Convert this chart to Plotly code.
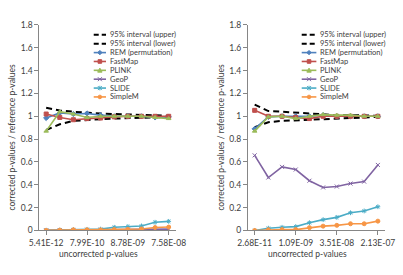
import plotly.graph_objects as go

W, H = 403, 275

# ---------------- data ----------------
idx = list(range(10))
tick_idx = [0, 3, 6, 9]
left_ticktext = ["5.41E-12", "7.99E-10", "8.78E-09", "7.58E-08"]
right_ticktext = ["2.68E-11", "1.09E-09", "3.51E-08", "2.13E-07"]

left_upper = [1.075, 1.05, 1.04, 1.03, 1.025, 1.02, 1.015, 1.01, 1.01, 1.005]
left_lower = [0.88, 0.93, 0.96, 0.97, 0.975, 0.98, 0.985, 0.99, 0.99, 0.995]
left_rem = [0.985, 1.03, 1.02, 1.025, 1.01, 1.0, 1.0, 1.0, 0.99, 0.995]
left_fastmap = [1.02, 0.99, 0.97, 0.98, 0.985, 0.995, 1.0, 1.0, 1.0, 1.0]
left_plink = [0.87, 1.04, 1.02, 0.99, 1.0, 1.0, 1.0, 1.0, 0.99, 0.98]
left_geop = [0.001, 0.002, 0.004, 0.005, 0.006, 0.007, 0.008, 0.01, 0.01, 0.012]
left_slide = [0.002, 0.004, 0.008, 0.01, 0.012, 0.028, 0.034, 0.04, 0.072, 0.08]
left_simplem = [0.001, 0.003, 0.006, 0.006, 0.005, 0.008, 0.01, 0.013, 0.026, 0.03]

right_upper = [1.103, 1.046, 1.04, 1.032, 1.027, 1.02, 1.01, 1.01, 1.005, 1.005]
right_lower = [0.905, 0.948, 0.96, 0.965, 0.975, 0.98, 0.985, 0.99, 0.99, 0.995]
right_rem = [0.89, 0.995, 1.0, 1.0, 1.0, 1.01, 1.0, 1.0, 1.0, 1.0]
right_fastmap = [1.052, 1.0, 1.0, 0.99, 0.98, 1.0, 1.0, 1.0, 1.0, 1.0]
right_plink = [0.87, 0.995, 1.0, 0.98, 1.0, 1.015, 1.01, 1.01, 1.0, 1.0]
right_geop = [0.658, 0.464, 0.557, 0.534, 0.436, 0.377, 0.385, 0.411, 0.428, 0.574]
right_slide = [0.0, 0.02, 0.028, 0.034, 0.068, 0.095, 0.115, 0.155, 0.171, 0.208]
right_simplem = [0.0, 0.006, 0.008, 0.008, 0.025, 0.038, 0.045, 0.059, 0.059, 0.082]

names = ["95% interval (upper)", "95% interval (lower)", "REM (permutation)",
         "FastMap", "PLINK", "GeoP", "SLIDE", "SimpleM"]
left_series = [left_upper, left_lower, left_rem, left_fastmap, left_plink,
               left_geop, left_slide, left_simplem]
right_series = [right_upper, right_lower, right_rem, right_fastmap, right_plink,
                right_geop, right_slide, right_simplem]

# ---------------- styles ----------------
colors = ["#000000", "#000000", "#4F81BD", "#C0504D", "#9BBB59",
          "#8064A2", "#4BACC6", "#F79646"]
symbols = [None, None, "diamond", "square", "triangle-up", "x-thin", "asterisk", "circle"]
dashes = ["6px,4px", "6px,4px", "solid", "solid", "solid", "solid", "solid", "solid"]
widths = [2, 2, 1.6, 1.6, 1.6, 1.6, 1.6, 1.6]

FONT = "Lato"
TXT = "#404040"
AX = "#868686"

fig = go.Figure()
for xa, ya, series in (("x", "y", left_series), ("x2", "y2", right_series)):
    for i, vals in enumerate(series):
        if symbols[i]:
            mk = dict(symbol=symbols[i], size=4, color=colors[i],
                      line=dict(color=colors[i], width=1))
        else:
            mk = None
        fig.add_trace(go.Scatter(
            x=idx, y=vals, xaxis=xa, yaxis=ya, name=names[i], showlegend=False,
            mode="lines+markers" if symbols[i] else "lines",
            line=dict(color=colors[i], width=widths[i], dash=dashes[i]),
            marker=mk,
        ))


def px(x):
    return x / W


def py(y):
    return 1 - y / H


ytickvals = [0, 0.2, 0.4, 0.6, 0.8, 1.0, 1.2, 1.4, 1.6, 1.8]
yticktext = ["0", "0.2", "0.4", "0.6", "0.8", "1", "1.2", "1.4", "1.6", "1.8"]
ydom = [py(234), py(20.7)]

common_x = dict(range=[-0.5, 9.5], showline=True, linecolor=AX, linewidth=1,
                ticks="outside", ticklen=4, tickcolor=AX, showgrid=False,
                zeroline=False, tickvals=tick_idx,
                tickfont=dict(family=FONT, size=8.5, color=TXT))
common_y = dict(range=[0, 1.8], showline=True, linecolor=AX, linewidth=1,
                ticks="outside", ticklen=4, tickcolor=AX, showgrid=False,
                zeroline=False, tickvals=ytickvals, ticktext=yticktext,
                tickfont=dict(family=FONT, size=8.5, color=TXT), domain=ydom)

fig.update_layout(
    width=W, height=H, margin=dict(l=0, r=0, t=0, b=0),
    paper_bgcolor="white", plot_bgcolor="white", showlegend=False,
    font=dict(family=FONT, color=TXT),
    xaxis=dict(domain=[px(30), px(174)], anchor="y", ticktext=left_ticktext, **common_x),
    yaxis=dict(anchor="x", **common_y),
    xaxis2=dict(domain=[px(250.5), px(395.3)], anchor="y2", ticktext=right_ticktext, **common_x),
    yaxis2=dict(anchor="x2", **common_y),
)

annotations = []
shapes = []
# axis titles
for xt in (93, 314):
    annotations.append(dict(text="uncorrected p-values", x=px(xt), y=py(258), xref="paper",
                            yref="paper", showarrow=False, xanchor="center", yanchor="middle",
                            borderpad=0, font=dict(family=FONT, size=8.5, color=TXT)))
for xt in (1.5, 221.7):
    annotations.append(dict(text="corrected p-values / reference p-values", x=px(xt), y=py(137),
                            xref="paper", yref="paper", showarrow=False, textangle=-90,
                            xanchor="center", yanchor="middle", borderpad=0,
                            font=dict(family=FONT, size=8.5, color=TXT)))

# manual compact legends, as in the reference
leg_y = [31, 40.2, 49.4, 58.6, 67.8, 77, 86.2, 95.4]
for (lx0, lx1, tx) in ((87.5, 100.5, 103.5), (307.5, 323.0, 325.5)):
    for i, name in enumerate(names):
        yy = py(leg_y[i])
        shapes.append(dict(type="line", xref="paper", yref="paper", x0=px(lx0), x1=px(lx1),
                           y0=yy, y1=yy,
                           line=dict(color=colors[i], width=widths[i],
                                     dash="5px,3px" if dashes[i] != "solid" else "solid")))
        cxm = px((lx0 + lx1) / 2)
        s = symbols[i]
        if s is not None:
            base = dict(xref="paper", yref="paper", xsizemode="pixel", ysizemode="pixel",
                        xanchor=cxm, yanchor=yy, fillcolor=colors[i],
                        line=dict(color=colors[i], width=1))
            if s == "circle":
                shapes.append(dict(type="circle", x0=-1.8, x1=1.8, y0=-1.8, y1=1.8, **base))
            elif s == "square":
                shapes.append(dict(type="rect", x0=-1.8, x1=1.8, y0=-1.8, y1=1.8, **base))
            elif s == "diamond":
                shapes.append(dict(type="path", path="M 0 2.2 L 2.2 0 L 0 -2.2 L -2.2 0 Z", **base))
            elif s == "triangle-up":
                shapes.append(dict(type="path", path="M 0 2.2 L 2.2 -1.8 L -2.2 -1.8 Z", **base))
            elif s == "x-thin":
                shapes.append(dict(type="path", path="M -2 -2 L 2 2 M -2 2 L 2 -2", **base))
            elif s == "asterisk":
                shapes.append(dict(type="path", path="M -2 -2 L 2 2 M -2 2 L 2 -2 M 0 -2.3 L 0 2.3", **base))
        annotations.append(dict(text=name, x=px(tx), y=yy, xref="paper", yref="paper",
                                showarrow=False, xanchor="left", yanchor="middle",
                                borderpad=0, font=dict(family=FONT, size=7.5, color=TXT)))

fig.update_layout(annotations=annotations, shapes=shapes)
fig.write_html("out.html")
